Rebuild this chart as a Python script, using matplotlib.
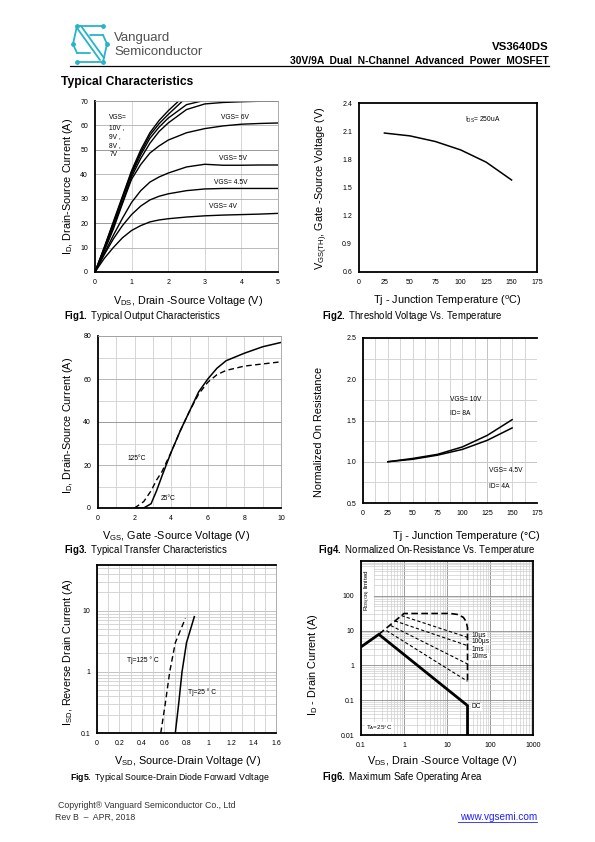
import matplotlib
matplotlib.use('Agg')
import matplotlib.pyplot as plt
import numpy as np
from matplotlib.lines import Line2D
from matplotlib.ticker import LogLocator, MultipleLocator, NullFormatter

plt.rcParams['font.family'] = ['Liberation Sans', 'DejaVu Sans']
plt.rcParams['mathtext.fontset'] = 'custom'
plt.rcParams['mathtext.rm'] = 'Liberation Sans'
plt.rcParams['mathtext.it'] = 'Liberation Sans:italic'
plt.rcParams['mathtext.bf'] = 'Liberation Sans:bold'

# ---- Fig1: output characteristics ----
vds = [0, 0.25, 0.5, 0.75, 1, 1.25, 1.5, 1.75, 2, 2.5, 3, 3.5, 4, 4.5, 5]
id_vgs10 = [0, 10, 20.5, 31, 41.5, 50, 57, 62, 66, 73, 78, 80, 80, 80, 80]
id_vgs9 = [0, 9.8, 20, 30.5, 40.8, 49, 56, 60.7, 64.5, 71.5, 75, 77, 78, 78, 78]
id_vgs8 = [0, 9.5, 19.5, 30, 40, 48, 54.7, 59.3, 63, 68.5, 70.3, 70.6, 70.8, 71, 71]
id_vgs7 = [0, 9, 18.5, 28.5, 39, 46.5, 52.7, 57.5, 61, 66.5, 68.8, 69.4, 69.7, 69.9, 70]
id_vgs6 = [0, 8.5, 17.5, 28, 38, 44, 48.7, 51.6, 54, 57, 58.7, 59.8, 60.5, 60.8, 61]
id_vgs5 = [0, 7.5, 15, 22, 28.5, 33.3, 36.8, 38.9, 40.5, 43, 44.1, 43.7, 43.7, 43.8, 43.8]
id_vgs45 = [0, 7, 13.5, 19, 23.5, 27, 29.5, 31, 32, 33.3, 34, 34.2, 34.2, 34.2, 34.2]
id_vgs4 = [0, 5.5, 10, 14, 17, 19, 20.5, 21.3, 21.8, 22.5, 23, 23.3, 23.5, 23.7, 24]

# ---- Fig2: threshold voltage vs temperature ----
tj = [25, 50, 75, 100, 125, 150]
vth = [2.08, 2.05, 1.99, 1.90, 1.77, 1.58]

# ---- Fig3: transfer characteristics ----
vgs = [2.0, 2.5, 2.9, 3.2, 3.5, 4, 4.5, 5, 5.5, 6, 6.5, 7, 8, 9, 10]
id_25c = [0, 0, 2, 8, 15, 26, 36, 45, 54, 60, 65, 68.5, 72, 75, 77]
id_125c = [0, 3, 8, 13, 17, 26, 36, 45, 53, 58.5, 62, 64, 66, 67, 68]

# ---- Fig4: normalized on-resistance ----
rds_10v = [1.0, 1.04, 1.09, 1.18, 1.32, 1.51]
rds_45v = [1.0, 1.03, 1.08, 1.15, 1.26, 1.41]

# ---- Fig5: body diode forward voltage ----
isd = [0.1, 0.3, 1, 3, 8]
vsd_25c = [0.70, 0.73, 0.76, 0.80, 0.87]
isd_125 = [0.1, 0.3, 1, 3, 7.5]
vsd_125c = [0.57, 0.61, 0.65, 0.70, 0.79]

# ---- Fig6: safe operating area ----
dc_v = [0.1, 0.26, 30, 30]
dc_i = [3.4, 7.8, 0.07, 0.01]
env_v = [0.26, 1.0, 12, 18, 24, 28, 30, 30]
env_i = [7.8, 31, 31, 29, 24, 18, 12, 0.33]
pulse_v = [[0.87, 30], [0.61, 30], [0.49, 30], [0.39, 30]]
pulse_i = [[27, 6.4], [19, 3.7], [14, 1.1], [10, 0.35]]
pulse_labels = ['10µs', '100µs', '1ms', '10ms']

W, H = 595, 842
fig = plt.figure(figsize=(5.95, 8.42), dpi=100)


def px_axes(l, t, r, b):
    return fig.add_axes([l / W, 1 - b / H, (r - l) / W, (b - t) / H])


def ftext(x, y, s, **kw):
    return fig.text(x / W, 1 - y / H, s, **kw)


def style(ax, black=('left', 'bottom')):
    for name, sp in ax.spines.items():
        if name in black:
            sp.set_color('black')
            sp.set_linewidth(1.3)
        else:
            sp.set_color('#a0a0a0')
            sp.set_linewidth(0.6)
    ax.tick_params(which='both', length=0, labelsize=5, pad=5)
    ax.set_axisbelow(True)


LBL = 7.8
CAP = 6.9
light = '#cfcfcf'
dark = '#8a8a8a'

# ---------- header ----------
logo = px_axes(68, 22, 112, 66)
logo.set_xlim(68, 112)
logo.set_ylim(66, 22)
logo.axis('off')
cy = '#27b4c8'
segs = [([77, 103], [26, 26]), ([77, 103], [62, 62]),
        ([77, 73], [26, 44]), ([73, 77], [44, 53]),
        ([103, 107], [62, 44]), ([107, 103], [44, 35]),
        ([77, 100], [28, 60]), ([81, 104], [26, 58]),
        ([77, 90], [53, 53]), ([90, 103], [35, 35])]
for xs, ys in segs:
    logo.plot(xs, ys, color=cy, lw=1.3, solid_capstyle='round')
logo.scatter([77, 103, 73, 107, 77, 103], [26, 26, 44, 44, 62, 62], s=6, color=cy, zorder=3)

ftext(114, 38, 'Vanguard', fontsize=9.5, color='#505050', va='center')
ftext(114, 52, 'Semiconductor', fontsize=9.5, color='#505050', va='center')
ftext(549, 47, 'VS3640DS', fontsize=8.2, fontweight='bold', ha='right', va='center')
ftext(549, 61, '30V/9A  Dual  N-Channel  Advanced  Power  MOSFET', fontsize=7.4,
      fontweight='bold', ha='right', va='center')
fig.add_artist(Line2D([70 / W, 549 / W], [1 - 66 / H] * 2, color='black', lw=0.9))
ftext(61, 82, 'Typical Characteristics', fontsize=8.7, fontweight='bold', va='center')

# ---------- Fig1 ----------
ax = px_axes(95, 101, 278, 272)
style(ax)
ax.set_xlim(0, 5)
ax.set_ylim(0, 70)
ax.set_xticks(range(0, 6))
ax.set_yticks(range(0, 71, 10))
for v in range(1, 5):
    ax.axvline(v, color=light, lw=0.6, zorder=0)
for v in range(10, 71, 10):
    ax.axhline(v, color=dark if v in (20, 50) else '#b0b0b0', lw=0.6, zorder=0)
for curve in [id_vgs10, id_vgs9, id_vgs8, id_vgs7, id_vgs6, id_vgs5, id_vgs45, id_vgs4]:
    ax.plot(vds, curve, color='black', lw=1.0)
ax.text(0.39, 64.5, 'VGS=\n10V ,\n9V ,\n8V ,\n7V', fontsize=4.8, va='top', linespacing=1.45)
ax.text(3.83, 62.0, 'VGS= 6V', fontsize=4.8, ha='center', va='bottom')
ax.text(3.78, 45.2, 'VGS= 5V', fontsize=4.8, ha='center', va='bottom')
ax.text(3.72, 35.2, 'VGS= 4.5V', fontsize=4.8, ha='center', va='bottom')
ax.text(3.5, 25.5, 'VGS= 4V', fontsize=4.8, ha='center', va='bottom')
ftext(188, 301, r'V$_{\rm DS}$, Drain -Source Voltage (V)', fontsize=LBL, ha='center', va='center')
ftext(68, 186, r'I$_{\rm D}$, Drain-Source Current (A)', fontsize=LBL, ha='center', va='center', rotation=90)
ftext(64, 316, r'$\bf{Fig1.}$ Typical Output Characteristics', fontsize=CAP, va='center')

# ---------- Fig2 ----------
ax = px_axes(359, 103, 537, 272)
style(ax, black=('left', 'bottom', 'top', 'right'))
ax.set_xlim(0, 175)
ax.set_ylim(0.6, 2.4)
ax.set_xticks(range(0, 176, 25))
ax.set_yticks([0.6, 0.9, 1.2, 1.5, 1.8, 2.1, 2.4])
ax.set_yticklabels(['0.6', '0.9', '1.2', '1.5', '1.8', '2.1', '2.4'])
ax.plot(tj, vth, color='black', lw=1.1)
ax.text(104, 2.22, r'I$_{\rm DS}$= 250uA', fontsize=4.8, va='center')
ftext(447, 301, r'Tj - Junction Temperature ($^{\rm o}$C)', fontsize=LBL, ha='center', va='center')
ftext(322, 188, r'V$_{\rm GS(TH)}$, Gate -Source Voltage (V)', fontsize=LBL, ha='center', va='center', rotation=90)
ftext(322, 316, r'$\bf{Fig2.}$ Threshold Voltage Vs. Temperature', fontsize=CAP, va='center')

# ---------- Fig3 ----------
ax = px_axes(98, 336, 281, 508)
style(ax)
ax.set_xlim(0, 10)
ax.set_ylim(0, 80)
ax.set_xticks(range(0, 11, 2))
ax.set_yticks(range(0, 81, 20))
for v in range(1, 10):
    ax.axvline(v, color=light, lw=0.6, zorder=0)
for v in range(10, 81, 10):
    ax.axhline(v, color=dark if v == 40 else ('#a8a8a8' if v % 20 == 0 else light), lw=0.6, zorder=0)
ax.plot(vgs, id_25c, color='black', lw=1.1)
ax.plot(vgs, id_125c, color='black', lw=1.0, dashes=(4, 2.5))
ax.text(1.6, 23, '125°C', fontsize=4.8, va='center')
ax.text(3.45, 4.4, '25°C', fontsize=4.8, va='center')
ftext(176, 536, r'V$_{\rm GS}$, Gate -Source Voltage (V)', fontsize=LBL, ha='center', va='center')
ftext(68, 425, r'I$_{\rm D}$, Drain-Source Current (A)', fontsize=LBL, ha='center', va='center', rotation=90)
ftext(64, 550, r'$\bf{Fig3.}$ Typical Transfer Characteristics', fontsize=CAP, va='center')

# ---------- Fig4 ----------
ax = px_axes(363, 338, 537, 503)
style(ax, black=('left', 'bottom', 'top'))
ax.spines['right'].set_visible(False)
ax.set_xlim(0, 175)
ax.set_ylim(0.5, 2.5)
ax.set_xticks(range(0, 176, 25))
ax.set_yticks([0.5, 1.0, 1.5, 2.0, 2.5])
ax.set_yticklabels(['0.5', '1.0', '1.5', '2.0', '2.5'])
ax.xaxis.set_minor_locator(MultipleLocator(12.5))
ax.yaxis.set_minor_locator(MultipleLocator(0.25))
ax.grid(which='both', color=light, lw=0.6)
ax.axvline(125, color=dark, lw=0.7, zorder=0.5)
for v in (1.0, 1.5):
    ax.axhline(v, color=dark, lw=0.7, zorder=0.5)
ax.plot(tj, rds_10v, color='black', lw=1.1)
ax.plot(tj, rds_45v, color='black', lw=1.1)
ax.text(87, 1.76, 'VGS= 10V', fontsize=4.8, va='center')
ax.text(87, 1.58, 'ID= 8A', fontsize=4.8, va='center')
ax.text(127, 0.90, 'VGS= 4.5V', fontsize=4.8, va='center')
ax.text(127, 0.70, 'ID= 4A', fontsize=4.8, va='center')
ftext(466, 536, r'Tj - Junction Temperature (°C)', fontsize=LBL, ha='center', va='center')
ftext(319, 432, 'Normalized On Resistance', fontsize=LBL, ha='center', va='center', rotation=90)
ftext(318, 550, r'$\bf{Fig4.}$ Normalized On-Resistance Vs. Temperature', fontsize=CAP, va='center')

# ---------- Fig5 ----------
ax = px_axes(97, 565, 276, 733)
style(ax, black=('left', 'bottom', 'top'))
ax.set_yscale('log')
ax.set_xlim(0, 1.6)
ax.set_ylim(0.1, 56)
ax.set_xticks([0, 0.2, 0.4, 0.6, 0.8, 1.0, 1.2, 1.4, 1.6])
ax.set_xticklabels(['0', '0.2', '0.4', '0.6', '0.8', '1', '1.2', '1.4', '1.6'])
ax.set_yticks([0.1, 1, 10])
ax.set_yticklabels(['0.1', '1', '10'])
ax.xaxis.set_minor_locator(MultipleLocator(0.1))
ax.yaxis.set_minor_locator(LogLocator(subs=np.arange(2, 10)))
ax.yaxis.set_minor_formatter(NullFormatter())
ax.grid(which='both', color=light, lw=0.6)
for v in (1, 10):
    ax.axhline(v, color=dark, lw=0.7, zorder=0.5)
ax.plot(vsd_25c, isd, color='black', lw=1.1)
ax.plot(vsd_125c, isd_125, color='black', lw=1.0, dashes=(4, 2.5))
ax.text(0.27, 1.53, 'Tj=125 ° C', fontsize=4.8, va='center')
ax.text(0.81, 0.47, 'Tj=25 ° C', fontsize=4.8, va='center')
ftext(188, 761, r'V$_{\rm SD}$, Source-Drain Voltage (V)', fontsize=LBL, ha='center', va='center')
ftext(68, 652, r'I$_{\rm SD}$, Reverse Drain Current (A)', fontsize=LBL, ha='center', va='center', rotation=90)
ftext(70, 777, r'$\bf{Fig5.}$ Typical Source-Drain Diode Forward Voltage', fontsize=CAP - 0.6, va='center')

# ---------- Fig6 ----------
ax = px_axes(361, 561, 533, 735)
style(ax, black=('left', 'bottom', 'top', 'right'))
ax.set_xscale('log')
ax.set_yscale('log')
ax.set_xlim(0.1, 1000)
ax.set_ylim(0.01, 1000)
ax.set_xticks([0.1, 1, 10, 100, 1000])
ax.set_xticklabels(['0.1', '1', '10', '100', '1000'])
ax.set_yticks([0.01, 0.1, 1, 10, 100])
ax.set_yticklabels(['0.01', '0.1', '1', '10', '100'])
for axis in (ax.xaxis, ax.yaxis):
    axis.set_minor_locator(LogLocator(subs=np.arange(2, 10)))
    axis.set_minor_formatter(NullFormatter())
ax.grid(which='minor', color=light, lw=0.5)
ax.grid(which='major', color=dark, lw=0.6)
ax.plot(dc_v, dc_i, color='black', lw=2.0, solid_joinstyle='miter')
ax.plot(env_v, env_i, color='black', lw=1.2, dashes=(4, 2))
for xs, ys in zip(pulse_v, pulse_i):
    ax.plot(xs, ys, color='black', lw=0.8, dashes=(3, 2))
for lab, yv in zip(pulse_labels, [7.2, 4.85, 2.8, 1.8]):
    ax.text(38, yv, lab, fontsize=4.8, va='center',
            bbox=dict(facecolor='white', edgecolor='none', pad=0.3))
ax.text(38, 0.064, 'DC', fontsize=4.8, va='center',
        bbox=dict(facecolor='white', edgecolor='none', pad=0.5))
ax.text(0.128, 0.0165, r'T$_{\rm A}$=25°C', fontsize=4.5, va='center',
        bbox=dict(facecolor='white', edgecolor='none', pad=0.5))
ax.text(0.145, 150, r'R$_{\rm DS(ON)}$ limited', fontsize=4.5, va='center', ha='center',
        rotation=90, bbox=dict(facecolor='white', edgecolor='none', pad=0.5))
ftext(442, 761, r'V$_{\rm DS}$, Drain -Source Voltage (V)', fontsize=LBL, ha='center', va='center')
ftext(313, 665, r'I$_{\rm D}$ - Drain Current (A)', fontsize=LBL, ha='center', va='center', rotation=90)
ftext(322, 777, r'$\bf{Fig6.}$ Maximum Safe Operating Area', fontsize=CAP, va='center')

# ---------- footer ----------
ftext(58, 806, 'Copyright® Vanguard Semiconductor Co., Ltd', fontsize=6.3, color='#333333', va='center')
ftext(55, 817, 'Rev B  –  APR, 2018', fontsize=6.3, color='#333333', va='center')
ftext(537, 817, 'www.vgsemi.com', fontsize=7.2, color='#2020ff', ha='right', va='center')
fig.add_artist(Line2D([458 / W, 537 / W], [1 - 822 / H] * 2, color='#2020ff', lw=0.6))

fig.savefig('out.png', dpi=100)
